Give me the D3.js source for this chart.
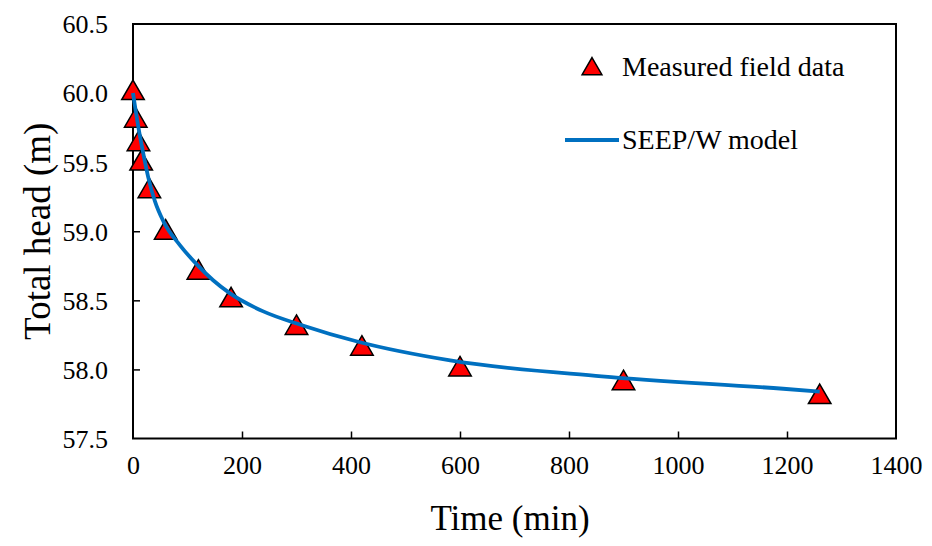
<!DOCTYPE html>
<html>
<head>
<meta charset="utf-8">
<script src="https://cdn.jsdelivr.net/npm/d3@7/dist/d3.min.js"></script>
<style>
  html, body { margin: 0; padding: 0; background: #fff; }
  svg { display: block; }
  svg text { font-family: "Liberation Serif", "Times New Roman", serif !important; fill: #000; }
</style>
</head>
<body>
<svg id="chart" width="932" height="546"></svg>
<script>
// Measured field data
const measuredTime = [0, 5, 10, 15, 30, 60, 120, 180, 300, 420, 600, 900, 1260];
const measuredHead = [60.0, 59.8, 59.63, 59.49, 59.29, 58.99, 58.7, 58.5, 58.3, 58.15, 58.0, 57.9, 57.8];

// SEEP/W model curve
const modelTime = [0, 10, 19, 28, 40, 56, 86, 117, 147, 178, 239, 310, 413, 582, 860, 1193, 1260];
const modelHead = [60.0, 59.75, 59.56, 59.39, 59.22, 59.07, 58.9, 58.76, 58.645, 58.55, 58.42, 58.32, 58.2, 58.065, 57.95, 57.86, 57.84];

const xTicks = [0, 200, 400, 600, 800, 1000, 1200, 1400];
const yTicks = [57.5, 58.0, 58.5, 59.0, 59.5, 60.0, 60.5];

const legendLabels = ["Measured field data", "SEEP/W model"];
const xTitle = "Time (min)";
const yTitle = "Total head (m)";

const FONT = '"Liberation Serif", "Times New Roman", serif';
const svg = d3.select("#chart");
const pLeft = 133, pRight = 896, pTop = 24, pBottom = 438.5;

const x = d3.scaleLinear().domain([0, 1400]).range([pLeft, pRight]);
const y = d3.scaleLinear().domain([57.5, 60.5]).range([pBottom, pTop]);

// Axes (ticks inside)
const xAxis = d3.axisBottom(x).tickValues(xTicks).tickSize(-7).tickPadding(17).tickFormat(d3.format("d"));
const yAxis = d3.axisLeft(y).tickValues(yTicks).tickSize(-7).tickPadding(25).tickFormat(d3.format(".1f"));

const gx = svg.append("g").attr("transform", `translate(0,${pBottom})`).call(xAxis);
const gy = svg.append("g").attr("transform", `translate(${pLeft},0)`).call(yAxis);
[gx, gy].forEach(g => {
  g.attr("font-family", FONT).attr("font-size", 26);
  g.select(".domain").remove();
  g.selectAll(".tick line").attr("stroke", "#000").attr("stroke-width", 1.5);
  g.selectAll(".tick text").attr("fill", "#000")
    .style("font-family", FONT).style("font-size", "26px");
});
gx.selectAll(".tick").filter(d => d === 0 || d === 1400).select("line").remove();
gy.selectAll(".tick").filter(d => d === 57.5 || d === 60.5).select("line").remove();
gy.selectAll(".tick text").attr("dy", "0.34em");

// Plot frame
svg.append("rect")
  .attr("x", pLeft).attr("y", pTop)
  .attr("width", pRight - pLeft).attr("height", pBottom - pTop)
  .attr("fill", "none").attr("stroke", "#000").attr("stroke-width", 2);

// Measured triangles
const tri = d3.symbol().type(d3.symbolTriangle).size(220);
svg.append("g").selectAll("path")
  .data(measuredTime)
  .join("path")
  .attr("d", tri)
  .attr("transform", (d, i) => `translate(${x(d)},${y(measuredHead[i])})`)
  .attr("fill", "#FF0000")
  .attr("stroke", "#000")
  .attr("stroke-width", 1.5);

// Model line (drawn above the markers)
const line = d3.line()
  .x((d, i) => x(modelTime[i]))
  .y((d, i) => y(modelHead[i]))
  .curve(d3.curveMonotoneX);
svg.append("path")
  .datum(modelTime)
  .attr("d", line)
  .attr("fill", "none")
  .attr("stroke", "#0070C0")
  .attr("stroke-width", 3.8);

// Legend
const leg = svg.append("g");
leg.append("path")
  .attr("d", d3.symbol().type(d3.symbolTriangle).size(170))
  .attr("transform", "translate(592,69)")
  .attr("fill", "#FF0000").attr("stroke", "#000").attr("stroke-width", 1.5);
leg.append("text").attr("x", 622).attr("y", 76).style("font-size", "28px").text(legendLabels[0]);
leg.append("line").attr("x1", 565).attr("x2", 619).attr("y1", 140).attr("y2", 140)
  .attr("stroke", "#0070C0").attr("stroke-width", 3.8);
leg.append("text").attr("x", 622).attr("y", 149).style("font-size", "28px").text(legendLabels[1]);

// Axis titles
svg.append("text")
  .attr("x", 510).attr("y", 530)
  .attr("text-anchor", "middle").style("font-size", "35px").text(xTitle);
svg.append("text")
  .attr("transform", `translate(50,${(pTop + pBottom) / 2}) rotate(-90)`)
  .attr("text-anchor", "middle").style("font-size", "37px").text(yTitle);
</script>
</body>
</html>
